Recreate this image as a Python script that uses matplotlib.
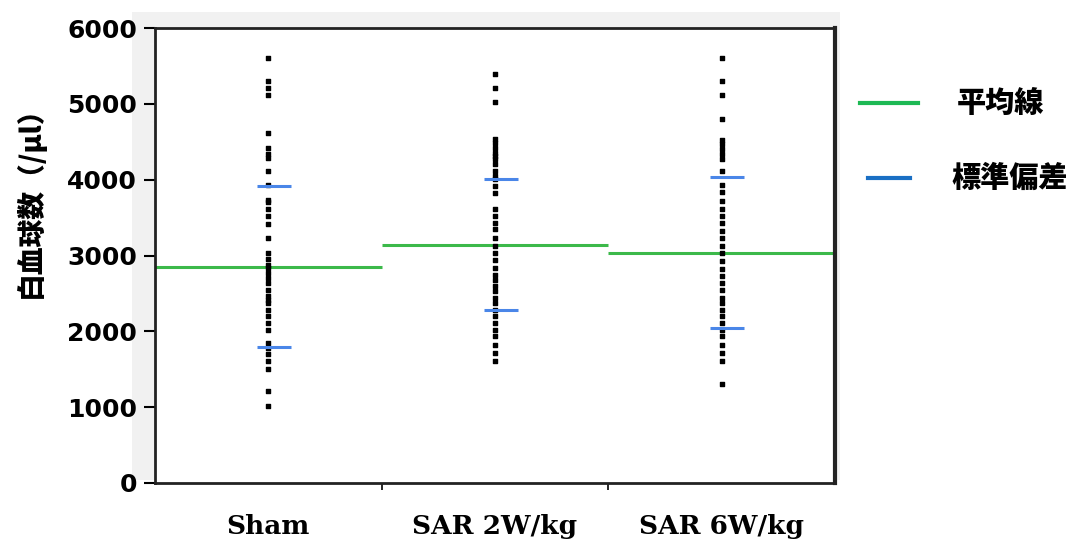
import matplotlib.pyplot as plt
from matplotlib.patches import Rectangle
from matplotlib.lines import Line2D
import numpy as np

plt.rcParams['font.family'] = ['DejaVu Sans', 'Noto Sans CJK JP']

groups = ["Sham", "SAR 2W/kg", "SAR 6W/kg"]

sham = [5599, 5295, 5207, 5115, 4617, 4414, 4335, 4291, 4115, 3930, 3736, 3705,
        3608, 3515, 3419, 3229, 3035, 2956, 2881, 2837, 2771, 2705, 2639, 2551,
        2463, 2419, 2374, 2286, 2198, 2110, 2022, 1846, 1780, 1700, 1604, 1502,
        1216, 1009]
sar2 = [5392, 5203, 5018, 4533, 4480, 4423, 4357, 4313, 4269, 4203, 4115, 4048,
        4004, 3916, 3828, 3617, 3520, 3432, 3344, 3233, 3123, 3035, 2947, 2837,
        2749, 2683, 2595, 2529, 2441, 2374, 2286, 2198, 2110, 2022, 1934, 1824,
        1714, 1604]
sar6 = [5599, 5295, 5115, 4806, 4524, 4467, 4401, 4335, 4278, 4115, 3930, 3837,
        3718, 3617, 3520, 3423, 3322, 3233, 3123, 3035, 2925, 2824, 2727, 2639,
        2551, 2441, 2374, 2286, 2198, 2110, 2022, 1934, 1824, 1714, 1604, 1308]

means = [2846, 3132, 3035]
sd_upper = [3914, 4003, 4033]
sd_lower = [1800, 2285, 2047]

yticks = [0, 1000, 2000, 3000, 4000, 5000, 6000]

fig = plt.figure(figsize=(10.72, 5.42), dpi=100)
# light grey panel behind the plot area
bg = Rectangle((132 / 1072, 1 - 480 / 542), 708 / 1072, 468 / 542,
               transform=fig.transFigure, facecolor='#f1f1f1',
               edgecolor='none', zorder=-5)
fig.add_artist(bg)
ax = fig.add_axes([155 / 1072, 1 - 483 / 542, 680 / 1072, 455 / 542])
ax.set_zorder(2)
ax.set_facecolor('white')

for i, vals in enumerate([sham, sar2, sar6]):
    cx = i + 0.5
    ax.scatter(np.full(len(vals), cx), vals, s=11, marker='s', color='black', zorder=3)
    ax.hlines(means[i], i, i + 1, color='#3cb94a', lw=2.2, zorder=2)
    ax.hlines([sd_upper[i], sd_lower[i]], cx - 0.05, cx + 0.1, color='#4a86e8',
              lw=2.2, zorder=4)

ax.set_xlim(0, 3)
ax.set_ylim(0, 6000)
ax.set_yticks(yticks)
ax.set_yticklabels([str(t) for t in yticks], fontsize=18, fontweight='heavy')
ax.set_xticks([1, 2])
ax.set_xticklabels([])
ax.tick_params(axis='y', direction='out', length=8, width=1.5, pad=5)
ax.tick_params(axis='x', direction='out', length=5, width=1.2)
for s in ['left', 'bottom', 'top']:
    ax.spines[s].set_linewidth(2)
    ax.spines[s].set_color('#222222')
ax.spines['right'].set_linewidth(3)
ax.spines['right'].set_color('#222222')

for i, g in enumerate(groups):
    ax.text(i + 0.5, -570, g, ha='center', va='center', fontsize=19,
            fontweight='heavy', family='DejaVu Serif')

fig.text(30 / 1072, 1 - 195 / 542, "白血球数（/μl）", rotation=90, ha='center',
         va='center', fontsize=20, fontweight='heavy',
         family=['Noto Sans CJK JP', 'DejaVu Sans'])

fig.lines.append(Line2D([860 / 1072, 918 / 1072], [1 - 103 / 542] * 2,
                        transform=fig.transFigure, color='#1db954', lw=3))
fig.lines.append(Line2D([868 / 1072, 910 / 1072], [1 - 178 / 542] * 2,
                        transform=fig.transFigure, color='#1a6fc4', lw=3))
fig.text(1000 / 1072, 1 - 103 / 542, "平均線", ha='center', va='center',
         fontsize=21, fontweight='heavy', family=['Noto Sans CJK JP', 'DejaVu Sans'])
fig.text(1010 / 1072, 1 - 178 / 542, "標準偏差", ha='center', va='center',
         fontsize=21, fontweight='heavy', family=['Noto Sans CJK JP', 'DejaVu Sans'])

fig.savefig("out.png", dpi=100)
